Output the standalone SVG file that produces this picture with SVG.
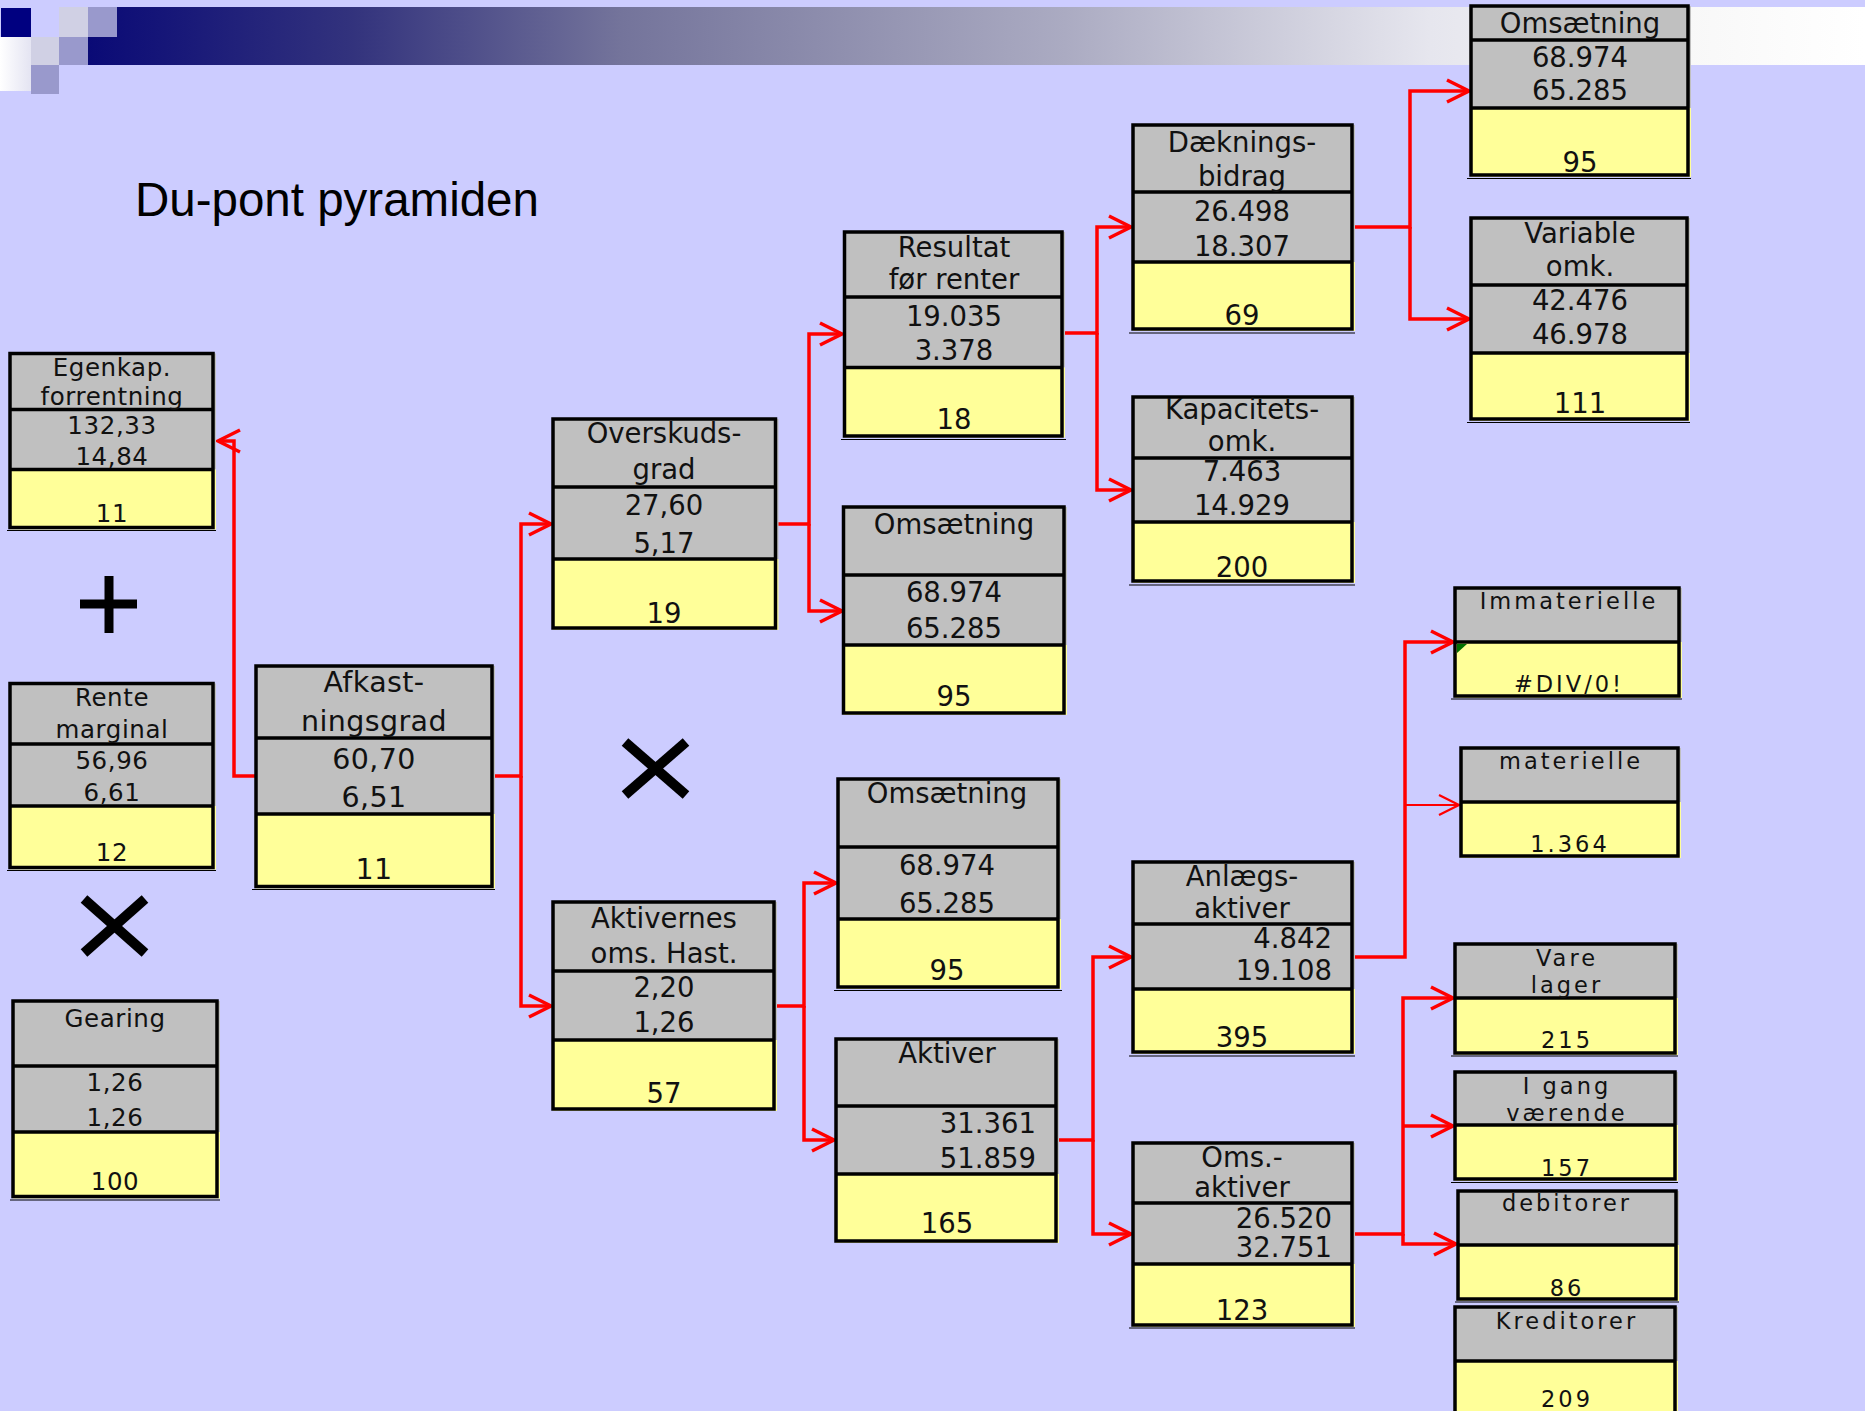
<svg xmlns="http://www.w3.org/2000/svg" width="1865" height="1411" viewBox="0 0 1865 1411">
<style>
.bg{fill:#ccccff}
.gr{fill:#c0c0c0}
.ye{fill:#ffff99}
.ol{fill:none;stroke:#000;stroke-width:3.5}
.dv{stroke:#000;stroke-width:3.5}
.ul{stroke:#000;stroke-width:1.2}
text{font-family:"DejaVu Sans",Verdana,sans-serif;fill:#111;text-anchor:middle}
.t1{font-size:24.5px;letter-spacing:0.6px}
.t2{font-size:28.5px;letter-spacing:0.4px}
.t3{font-size:27.5px}
.t4{font-size:22.5px;letter-spacing:3px}
.r{text-anchor:end}
.cn{fill:none;stroke:#ff0000;stroke-width:3.5;stroke-linejoin:miter}
.cn2{fill:none;stroke:#ff0000;stroke-width:2.2}
.sym{stroke:#000;fill:none}
</style>
<defs>
<linearGradient id="band" gradientUnits="userSpaceOnUse" x1="88" y1="0" x2="1865" y2="0">
<stop offset="0" stop-color="#0a0a76"/>
<stop offset="0.15" stop-color="#33337d"/>
<stop offset="0.3" stop-color="#74749b"/>
<stop offset="0.55" stop-color="#ababc2"/>
<stop offset="0.755" stop-color="#e6e6ee"/>
<stop offset="0.9" stop-color="#f8f8f8"/>
<stop offset="1" stop-color="#ffffff"/>
</linearGradient>
<linearGradient id="wsq" x1="0" y1="0" x2="1" y2="0">
<stop offset="0" stop-color="#ffffff"/>
<stop offset="1" stop-color="#e4e4f2"/>
</linearGradient>
<marker id="ah" markerUnits="userSpaceOnUse" markerWidth="30" markerHeight="30" viewBox="0 0 30 30" refX="26" refY="15" orient="auto">
<path d="M4,4 L26,15 L4,26" fill="none" stroke="#ff0000" stroke-width="3.5"/>
</marker>
<marker id="ah2" markerUnits="userSpaceOnUse" markerWidth="30" markerHeight="30" viewBox="0 0 30 30" refX="26" refY="15" orient="auto">
<path d="M6,5 L26,15 L6,25" fill="none" stroke="#ff0000" stroke-width="2.2"/>
</marker>
</defs>

<rect class="bg" x="0" y="0" width="1865" height="1411"/>

<g id="header">
<path d="M117,7 H1865 V65 H88 V37 H117 Z" fill="url(#band)"/>
<rect x="1" y="8" width="30" height="29" fill="#000080"/>
<rect x="59" y="7" width="29" height="30" fill="#d0d0e4"/>
<rect x="88" y="7" width="29" height="30" fill="#9999cc"/>
<rect x="0" y="37" width="31" height="54" fill="url(#wsq)"/>
<rect x="31" y="37" width="28" height="28" fill="#d0d0e4"/>
<rect x="59" y="37" width="29" height="28" fill="#9999cc"/>
<rect x="31" y="65" width="28" height="29" fill="#9999cc"/>
</g>

<text id="title" x="135" y="216" style="font-family:'Liberation Sans',Arial,sans-serif;font-size:47.5px;text-anchor:start;fill:#000">Du-pont pyramiden</text>

<g id="operators">
<line class="sym" x1="80" y1="604" x2="137" y2="604" stroke-width="9"/>
<line class="sym" x1="109" y1="576" x2="109" y2="633" stroke-width="9"/>
<line class="sym" x1="84" y1="899" x2="145" y2="953" stroke-width="10"/>
<line class="sym" x1="145" y1="899" x2="84" y2="953" stroke-width="10"/>
<line class="sym" x1="625" y1="742" x2="686" y2="795" stroke-width="10"/>
<line class="sym" x1="686" y1="742" x2="625" y2="795" stroke-width="10"/>
</g>

<g id="connectors">
<path class="cn" d="M256,776 H234 V441 H218" marker-end="url(#ah)"/>
<path class="cn" d="M492,776 H521 V524 H551" marker-end="url(#ah)"/>
<path class="cn" d="M521,776 V1006 H551" marker-end="url(#ah)"/>
<path class="cn" d="M776,524 H809 V334 H842" marker-end="url(#ah)"/>
<path class="cn" d="M809,524 V611 H842" marker-end="url(#ah)"/>
<path class="cn" d="M774,1006 H804 V883 H836" marker-end="url(#ah)"/>
<path class="cn" d="M804,1006 V1140 H834" marker-end="url(#ah)"/>
<path class="cn" d="M1062,333 H1097 V227 H1131" marker-end="url(#ah)"/>
<path class="cn" d="M1097,333 V490 H1131" marker-end="url(#ah)"/>
<path class="cn" d="M1353,227 H1410 V91 H1469" marker-end="url(#ah)"/>
<path class="cn" d="M1410,227 V319 H1469" marker-end="url(#ah)"/>
<path class="cn" d="M1056,1140 H1093 V957 H1131" marker-end="url(#ah)"/>
<path class="cn" d="M1093,1140 V1234 H1131" marker-end="url(#ah)"/>
<path class="cn" d="M1352,957 H1405 V642 H1453" marker-end="url(#ah)"/>
<path class="cn2" d="M1405,805 H1459" marker-end="url(#ah2)"/>
<path class="cn" d="M1352,1234 H1403 V998 H1453" marker-end="url(#ah)"/>
<path class="cn" d="M1403,1126 H1453" marker-end="url(#ah)"/>
<path class="cn" d="M1403,1234 V1244 H1456" marker-end="url(#ah)"/>
</g>

<g id="n-egenkap">
<rect class="gr" x="10" y="353.5" width="206" height="116"/>
<rect class="ye" x="10" y="469.5" width="206" height="60"/>
<rect class="ol" x="10" y="353.5" width="203" height="174"/>
<line class="dv" x1="10" y1="409.5" x2="213" y2="409.5"/>
<line class="dv" x1="10" y1="469.5" x2="213" y2="469.5"/>
<line class="ul" x1="7" y1="530.5" x2="216" y2="530.5"/>
<text class="t1" x="112" y="376">Egenkap.</text>
<text class="t1" x="112" y="405">forrentning</text>
<text class="t1" x="112" y="433.5">132,33</text>
<text class="t1" x="112" y="465">14,84</text>
<text class="t1" x="112" y="522">11</text>
</g>

<g id="n-rente">
<rect class="gr" x="10" y="683.5" width="206" height="122.5"/>
<rect class="ye" x="10" y="806" width="206" height="63.5"/>
<rect class="ol" x="10" y="683.5" width="203" height="184"/>
<line class="dv" x1="10" y1="744" x2="213" y2="744"/>
<line class="dv" x1="10" y1="806" x2="213" y2="806"/>
<line class="ul" x1="7" y1="870.5" x2="216" y2="870.5"/>
<text class="t1" x="112" y="706">Rente</text>
<text class="t1" x="112" y="738">marginal</text>
<text class="t1" x="112" y="768.5">56,96</text>
<text class="t1" x="112" y="800.5">6,61</text>
<text class="t1" x="112" y="861">12</text>
</g>

<g id="n-gearing">
<rect class="gr" x="13" y="1001" width="207" height="131"/>
<rect class="ye" x="13" y="1132" width="207" height="66.5"/>
<rect class="ol" x="13" y="1001" width="204" height="195.5"/>
<line class="dv" x1="13" y1="1066" x2="217" y2="1066"/>
<line class="dv" x1="13" y1="1132" x2="217" y2="1132"/>
<line class="ul" x1="10" y1="1200" x2="220" y2="1200"/>
<text class="t1" x="115" y="1027">Gearing</text>
<text class="t1" x="115" y="1090.5">1,26</text>
<text class="t1" x="115" y="1125.5">1,26</text>
<text class="t1" x="115" y="1190">100</text>
</g>

<g id="n-afkast">
<rect class="gr" x="256" y="666" width="239" height="148"/>
<rect class="ye" x="256" y="814" width="239" height="74.5"/>
<rect class="ol" x="256" y="666" width="236" height="220.5"/>
<line class="dv" x1="256" y1="738" x2="492" y2="738"/>
<line class="dv" x1="256" y1="814" x2="492" y2="814"/>
<line class="ul" x1="252" y1="889.5" x2="495" y2="889.5"/>
<text class="t2" x="374" y="692">Afkast-</text>
<text class="t2" x="374" y="731">ningsgrad</text>
<text class="t2" x="374" y="768.5">60,70</text>
<text class="t2" x="374" y="807">6,51</text>
<text class="t2" x="374" y="878.5">11</text>
</g>

<g id="n-overskud">
<rect class="gr" x="553" y="419" width="225.5" height="140"/>
<rect class="ye" x="553" y="559" width="225.5" height="71"/>
<rect class="ol" x="553" y="419" width="222.5" height="209"/>
<line class="dv" x1="553" y1="487" x2="775.5" y2="487"/>
<line class="dv" x1="553" y1="559" x2="775.5" y2="559"/>
<text class="t3" x="664" y="443">Overskuds-</text>
<text class="t3" x="664" y="479">grad</text>
<text class="t3" x="664" y="515">27,60</text>
<text class="t3" x="664" y="553">5,17</text>
<text class="t3" x="664" y="623">19</text>
</g>

<g id="n-aktivernes">
<rect class="gr" x="553" y="902" width="224" height="138"/>
<rect class="ye" x="553" y="1040" width="224" height="71"/>
<rect class="ol" x="553" y="902" width="221" height="207"/>
<line class="dv" x1="553" y1="971" x2="774" y2="971"/>
<line class="dv" x1="553" y1="1040" x2="774" y2="1040"/>
<text class="t3" x="664" y="928">Aktivernes</text>
<text class="t3" x="664" y="963">oms. Hast.</text>
<text class="t3" x="664" y="997">2,20</text>
<text class="t3" x="664" y="1032">1,26</text>
<text class="t3" x="664" y="1103">57</text>
</g>

<g id="n-resultat">
<rect class="gr" x="844.5" y="232" width="220.5" height="135.5"/>
<rect class="ye" x="844.5" y="367.5" width="220.5" height="70"/>
<rect class="ol" x="844.5" y="232" width="217.5" height="204"/>
<line class="dv" x1="844.5" y1="297" x2="1062" y2="297"/>
<line class="dv" x1="844.5" y1="367.5" x2="1062" y2="367.5"/>
<line class="ul" x1="841" y1="439.5" x2="1066" y2="439.5"/>
<text class="t3" x="954" y="257">Resultat</text>
<text class="t3" x="954" y="289">før renter</text>
<text class="t3" x="954" y="326">19.035</text>
<text class="t3" x="954" y="360">3.378</text>
<text class="t3" x="954" y="429">18</text>
</g>

<g id="n-omsaetning-1">
<rect class="gr" x="843.5" y="507" width="223.5" height="138"/>
<rect class="ye" x="843.5" y="645" width="223.5" height="70"/>
<rect class="ol" x="843.5" y="507" width="220.5" height="206"/>
<line class="dv" x1="843.5" y1="575" x2="1064" y2="575"/>
<line class="dv" x1="843.5" y1="645" x2="1064" y2="645"/>
<text class="t3" x="954" y="534">Omsætning</text>
<text class="t3" x="954" y="602">68.974</text>
<text class="t3" x="954" y="638">65.285</text>
<text class="t3" x="954" y="706">95</text>
</g>

<g id="n-omsaetning-2">
<rect class="gr" x="838" y="779" width="223" height="140"/>
<rect class="ye" x="838" y="919" width="223" height="70"/>
<rect class="ol" x="838" y="779" width="220" height="208"/>
<line class="dv" x1="838" y1="847" x2="1058" y2="847"/>
<line class="dv" x1="838" y1="919" x2="1058" y2="919"/>
<line class="ul" x1="834" y1="990.5" x2="1062" y2="990.5"/>
<text class="t3" x="947" y="803">Omsætning</text>
<text class="t3" x="947" y="875">68.974</text>
<text class="t3" x="947" y="913">65.285</text>
<text class="t3" x="947" y="980">95</text>
</g>

<g id="n-aktiver">
<rect class="gr" x="836" y="1039" width="223" height="135"/>
<rect class="ye" x="836" y="1174" width="223" height="69"/>
<rect class="ol" x="836" y="1039" width="220" height="202"/>
<line class="dv" x1="836" y1="1106" x2="1056" y2="1106"/>
<line class="dv" x1="836" y1="1174" x2="1056" y2="1174"/>
<text class="t3" x="947" y="1063">Aktiver</text>
<text class="t3 r" x="1036" y="1133">31.361</text>
<text class="t3 r" x="1036" y="1168">51.859</text>
<text class="t3" x="947" y="1233">165</text>
</g>

<g id="n-daekning">
<rect class="gr" x="1133" y="125" width="222" height="137"/>
<rect class="ye" x="1133" y="262" width="222" height="69"/>
<rect class="ol" x="1133" y="125" width="219" height="204"/>
<line class="dv" x1="1133" y1="192" x2="1352" y2="192"/>
<line class="dv" x1="1133" y1="262" x2="1352" y2="262"/>
<line class="ul" x1="1129" y1="333" x2="1355" y2="333"/>
<text class="t3" x="1242" y="152">Dæknings-</text>
<text class="t3" x="1242" y="186">bidrag</text>
<text class="t3" x="1242" y="221">26.498</text>
<text class="t3" x="1242" y="256">18.307</text>
<text class="t3" x="1242" y="325">69</text>
</g>

<g id="n-kapacitet">
<rect class="gr" x="1133" y="397" width="222" height="125"/>
<rect class="ye" x="1133" y="522" width="222" height="61"/>
<rect class="ol" x="1133" y="397" width="219" height="184"/>
<line class="dv" x1="1133" y1="458" x2="1352" y2="458"/>
<line class="dv" x1="1133" y1="522" x2="1352" y2="522"/>
<line class="ul" x1="1129" y1="585" x2="1355" y2="585"/>
<text class="t3" x="1242" y="419">Kapacitets-</text>
<text class="t3" x="1242" y="451">omk.</text>
<text class="t3" x="1242" y="481">7.463</text>
<text class="t3" x="1242" y="515">14.929</text>
<text class="t3" x="1242" y="577">200</text>
</g>

<g id="n-anlaeg">
<rect class="gr" x="1133" y="862" width="222" height="127"/>
<rect class="ye" x="1133" y="989" width="222" height="65"/>
<rect class="ol" x="1133" y="862" width="219" height="190"/>
<line class="dv" x1="1133" y1="924" x2="1352" y2="924"/>
<line class="dv" x1="1133" y1="989" x2="1352" y2="989"/>
<line class="ul" x1="1129" y1="1056" x2="1355" y2="1056"/>
<text class="t3" x="1242" y="886">Anlægs-</text>
<text class="t3" x="1242" y="918">aktiver</text>
<text class="t3 r" x="1332" y="948">4.842</text>
<text class="t3 r" x="1332" y="980">19.108</text>
<text class="t3" x="1242" y="1047">395</text>
</g>

<g id="n-omsaktiver">
<rect class="gr" x="1133" y="1143" width="222" height="121"/>
<rect class="ye" x="1133" y="1264" width="222" height="63"/>
<rect class="ol" x="1133" y="1143" width="219" height="182"/>
<line class="dv" x1="1133" y1="1203" x2="1352" y2="1203"/>
<line class="dv" x1="1133" y1="1264" x2="1352" y2="1264"/>
<line class="ul" x1="1129" y1="1328" x2="1355" y2="1328"/>
<text class="t3" x="1242" y="1167">Oms.-</text>
<text class="t3" x="1242" y="1197">aktiver</text>
<text class="t3 r" x="1332" y="1228">26.520</text>
<text class="t3 r" x="1332" y="1257">32.751</text>
<text class="t3" x="1242" y="1320">123</text>
</g>

<g id="n-omsaetning-3">
<rect class="gr" x="1471" y="6" width="220" height="102"/>
<rect class="ye" x="1471" y="108" width="220" height="69"/>
<rect class="ol" x="1471" y="6" width="217" height="169"/>
<line class="dv" x1="1471" y1="40" x2="1688" y2="40"/>
<line class="dv" x1="1471" y1="108" x2="1688" y2="108"/>
<line class="ul" x1="1467" y1="178.5" x2="1691" y2="178.5"/>
<text class="t3" x="1580" y="33">Omsætning</text>
<text class="t3" x="1580" y="67">68.974</text>
<text class="t3" x="1580" y="100">65.285</text>
<text class="t3" x="1580" y="172">95</text>
</g>

<g id="n-variable">
<rect class="gr" x="1471" y="218" width="219" height="135"/>
<rect class="ye" x="1471" y="353" width="219" height="68"/>
<rect class="ol" x="1471" y="218" width="216" height="201"/>
<line class="dv" x1="1471" y1="285" x2="1687" y2="285"/>
<line class="dv" x1="1471" y1="353" x2="1687" y2="353"/>
<line class="ul" x1="1467" y1="422.5" x2="1690" y2="422.5"/>
<text class="t3" x="1580" y="243">Variable</text>
<text class="t3" x="1580" y="276">omk.</text>
<text class="t3" x="1580" y="310">42.476</text>
<text class="t3" x="1580" y="344">46.978</text>
<text class="t3" x="1580" y="413">111</text>
</g>

<g id="n-immaterielle">
<rect class="gr" x="1455" y="588" width="227" height="54"/>
<rect class="ye" x="1455" y="642" width="227" height="56"/>
<rect class="ol" x="1455" y="588" width="224" height="108"/>
<line class="dv" x1="1455" y1="642" x2="1679" y2="642"/>
<line class="ul" x1="1451" y1="699" x2="1682" y2="699"/>
<path d="M1457,644 H1467 L1457,653 Z" fill="#007000"/>
<text class="t4" x="1569" y="609">Immaterielle</text>
<text class="t4" x="1569" y="692">#DIV/0!</text>
</g>

<g id="n-materielle">
<rect class="gr" x="1461" y="748" width="220" height="54"/>
<rect class="ye" x="1461" y="802" width="220" height="56"/>
<rect class="ol" x="1461" y="748" width="217" height="108"/>
<line class="dv" x1="1461" y1="802" x2="1678" y2="802"/>
<text class="t4" x="1571" y="769">materielle</text>
<text class="t4" x="1570" y="852">1.364</text>
</g>

<g id="n-varelager">
<rect class="gr" x="1455" y="944" width="223" height="54"/>
<rect class="ye" x="1455" y="998" width="223" height="57"/>
<rect class="ol" x="1455" y="944" width="220" height="109"/>
<line class="dv" x1="1455" y1="998" x2="1675" y2="998"/>
<line class="ul" x1="1451" y1="1056" x2="1678" y2="1056"/>
<text class="t4" x="1567" y="966">Vare</text>
<text class="t4" x="1567" y="993">lager</text>
<text class="t4" x="1567" y="1048">215</text>
</g>

<g id="n-igang">
<rect class="gr" x="1455" y="1072" width="223" height="53"/>
<rect class="ye" x="1455" y="1125" width="223" height="56"/>
<rect class="ol" x="1455" y="1072" width="220" height="107"/>
<line class="dv" x1="1455" y1="1125" x2="1675" y2="1125"/>
<line class="ul" x1="1451" y1="1182.5" x2="1678" y2="1182.5"/>
<text class="t4" x="1567" y="1094">I gang</text>
<text class="t4" x="1567" y="1121">værende</text>
<text class="t4" x="1567" y="1176">157</text>
</g>

<g id="n-debitorer">
<rect class="gr" x="1458" y="1191" width="221" height="54"/>
<rect class="ye" x="1458" y="1245" width="221" height="56"/>
<rect class="ol" x="1458" y="1191" width="218" height="108"/>
<line class="dv" x1="1458" y1="1245" x2="1676" y2="1245"/>
<line class="ul" x1="1455" y1="1302" x2="1679" y2="1302"/>
<text class="t4" x="1567" y="1211">debitorer</text>
<text class="t4" x="1567" y="1296">86</text>
</g>

<g id="n-kreditorer">
<rect class="gr" x="1455" y="1307" width="223" height="54"/>
<rect class="ye" x="1455" y="1361" width="223" height="60"/>
<rect class="ol" x="1455" y="1307" width="220" height="115"/>
<line class="dv" x1="1455" y1="1361" x2="1675" y2="1361"/>
<text class="t4" x="1567" y="1329">Kreditorer</text>
<text class="t4" x="1567" y="1407">209</text>
</g>
</svg>
